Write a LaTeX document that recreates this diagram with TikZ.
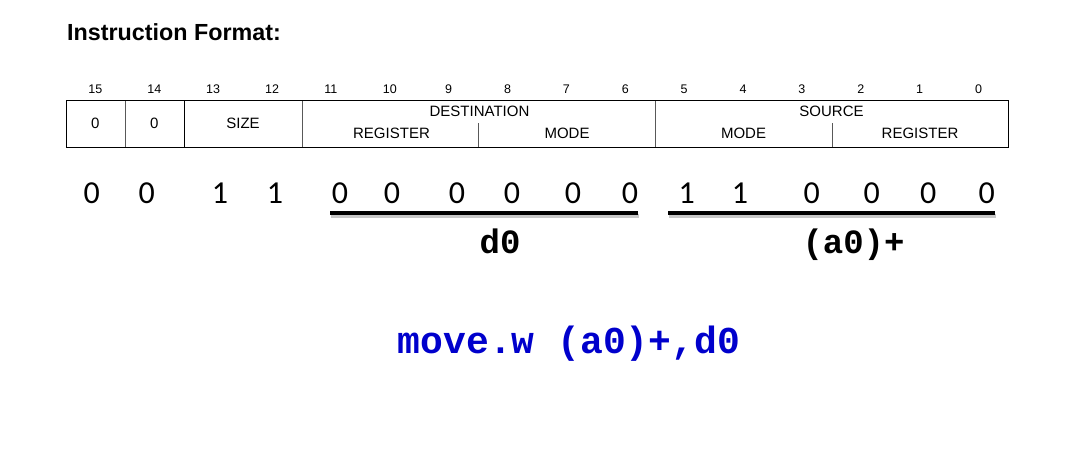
\documentclass[tikz,border=0pt]{standalone}
\usepackage{fontspec}
\setmainfont{Liberation Sans}
\newfontfamily\digfont{Carlito}
\newfontfamily\monofont{Liberation Mono}
\definecolor{codeblue}{RGB}{0,0,204}
\begin{document}
\begin{tikzpicture}[x=1pt,y=-1pt,
  bitlbl/.style={font=\fontsize{12.5}{14}\selectfont, anchor=base, inner sep=0pt},
  fieldlbl/.style={font=\fontsize{15}{17}\selectfont, anchor=base, inner sep=0pt},
  digit/.style={font=\digfont\fontsize{32}{36}\selectfont, anchor=base, inner sep=0pt},
  code/.style={font=\monofont\bfseries\fontsize{34}{38}\selectfont, anchor=base, inner sep=0pt},
  divider/.style={black!65, line width=0.7pt},
  underl/.style={line width=3.6pt, black},
  shadowl/.style={line width=4pt, black!22}
]
\useasboundingbox (0,0) rectangle (1082,451);
\fill[white] (0,0) rectangle (1082,451);

% title
\node[anchor=base west, inner sep=0pt, font=\bfseries\fontsize{23.3}{27}\selectfont] (title) at (67,40) {Instruction Format:};

% bit numbers
\foreach \b in {0,...,15}{
  \pgfmathsetmacro{\cx}{66+58.875*(15-\b)+29.44}
  \node[bitlbl] (bit\b) at (\cx,93) {\b};
}

% register box
\coordinate (boxNW) at (66,100);
\coordinate (boxSE) at (1008,147);
\draw[divider] (125,100) -- (125,147);
\draw[black, line width=0.8pt] (184,100) -- (184,147);
\draw[divider] (302,100) -- (302,147);
\draw[divider] (655,100) -- (655,147);
\draw[divider] (478.5,123) -- (478.5,147);
\draw[divider] (832,123) -- (832,147);
\draw[black, line width=0.9pt] (boxNW) rectangle (boxSE);

\node[fieldlbl] (f15) at (95.4,128) {0};
\node[fieldlbl] (f14) at (154.3,128) {0};
\node[fieldlbl] (fsize) at (243,128) {SIZE};
\node[fieldlbl] (fdest) at (479.5,116.7) {DESTINATION};
\node[fieldlbl] (fdreg) at (391.5,138) {REGISTER};
\node[fieldlbl] (fdmode) at (567,138) {MODE};
\node[fieldlbl] (fsrc) at (831.5,116.7) {SOURCE};
\node[fieldlbl] (fsmode) at (743.5,138) {MODE};
\node[fieldlbl] (fsreg) at (920,138) {REGISTER};

% binary digits
\node[digit] (d15) at (91.7,203) {0};
\node[digit] (d14) at (146.7,203) {0};
\node[digit] (d13) at (220,203) {1};
\node[digit] (d12) at (275,203) {1};
\node[digit] (d11) at (340,203) {0};
\node[digit] (d10) at (392,203) {0};
\node[digit] (d9) at (457,203) {0};
\node[digit] (d8) at (512,203) {0};
\node[digit] (d7) at (573,203) {0};
\node[digit] (d6) at (630,203) {0};
\node[digit] (d5) at (686.7,203) {1};
\node[digit] (d4) at (740,203) {1};
\node[digit] (d3) at (811.7,203) {0};
\node[digit] (d2) at (871.7,203) {0};
\node[digit] (d1) at (928.3,203) {0};
\node[digit] (d0) at (986.7,203) {0};

% underlines
\coordinate (u1a) at (330,213);
\coordinate (u1b) at (638,213);
\coordinate (u2a) at (668,213);
\coordinate (u2b) at (995,213);
\draw[shadowl] ([shift={(1,2.5)}]u1a) -- ([shift={(1,2.5)}]u1b);
\draw[shadowl] ([shift={(1,2.5)}]u2a) -- ([shift={(1,2.5)}]u2b);
\draw[underl] (u1a) -- (u1b);
\draw[underl] (u2a) -- (u2b);

% operand labels
\node[code] (dreg) at (500,253) {d0};
\node[code] (sreg) at (853.5,253) {(a0)+};

% instruction
\node[code, font=\monofont\bfseries\fontsize{38}{42}\selectfont, text=codeblue] (instr) at (569,353) {move.w (a0)+,d0};
\end{tikzpicture}
\end{document}
